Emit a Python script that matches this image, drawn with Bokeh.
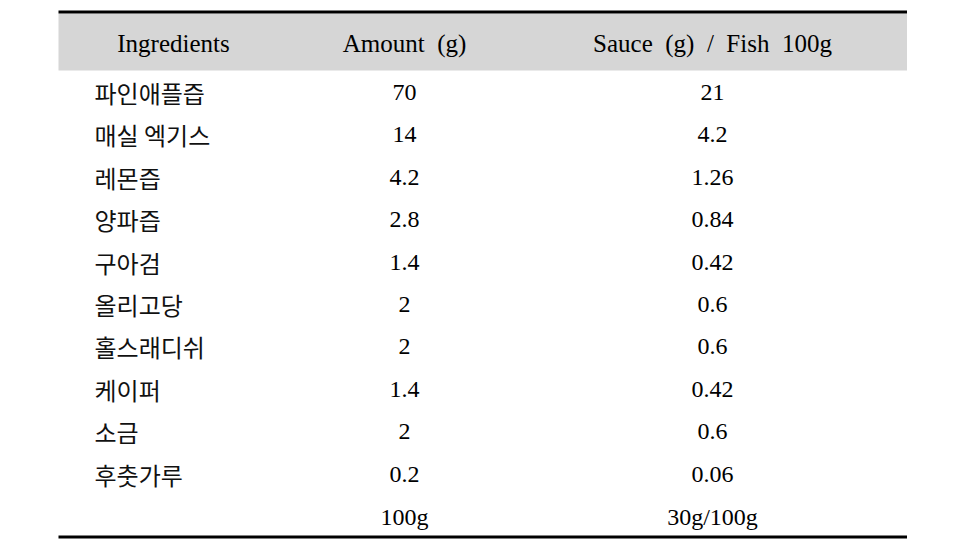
from bokeh.plotting import figure
from bokeh.models import Range1d, ColumnDataSource
from bokeh.core.properties import value
from bokeh.embed import file_html
from bokeh.resources import INLINE

headers = ["Ingredients", "Amount\u00a0 (g)", "Sauce\u00a0 (g)\u00a0 /\u00a0 Fish\u00a0 100g"]
ingredients = ["파인애플즙", "매실 엑기스", "레몬즙", "양파즙", "구아검",
               "올리고당", "홀스래디쉬", "케이퍼", "소금", "후춧가루"]
amount_g = [70, 14, 4.2, 2.8, 1.4, 2, 2, 1.4, 2, 0.2]
sauce_per_fish100g = [21, 4.2, 1.26, 0.84, 0.42, 0.6, 0.6, 0.42, 0.6, 0.06]
total_labels = ["", "100g", "30g/100g"]

W, H = 962, 543
p = figure(width=W, height=H, output_backend="svg", toolbar_location=None,
           x_range=Range1d(0, W), y_range=Range1d(H, 0),
           min_border=0, outline_line_color=None)
p.axis.visible = False
p.grid.visible = False
p.background_fill_color = "white"
p.border_fill_color = "white"

x0, x1 = 58, 906.5
col_ing_hdr, col_amt, col_sauce = 173, 404, 712
name_left = 94
row0, step = 92, 42.4

# header band
p.quad(left=[x0], right=[x1], top=[13], bottom=[70], fill_color="#d6d6d6", line_color=None)
# top & bottom rules
p.segment(x0=[x0], x1=[x1], y0=[11.5], y1=[11.5], line_color="black", line_width=3)
p.segment(x0=[x0], x1=[x1], y0=[536.5], y1=[536.5], line_color="black", line_width=3)

serif = value("Liberation Serif")
kor = value("Noto Sans CJK KR")

p.text(x=[col_ing_hdr, col_amt, col_sauce], y=[43, 43, 43], text=headers,
       text_font=serif, text_font_size="25px", text_align="center",
       text_baseline="middle", text_color="black")

n = len(ingredients)
ys = [row0 + i * step for i in range(n)]
fmt = lambda v: f"{v:g}"
src = ColumnDataSource(dict(y=ys, name=ingredients,
                            amt=[fmt(v) for v in amount_g],
                            sauce=[fmt(v) for v in sauce_per_fish100g]))
p.text(x=name_left, y="y", text="name", source=src, text_font=kor,
       text_font_size="24px", text_font_style="normal", text_align="left",
       text_baseline="middle", text_color="#111111")
p.text(x=col_amt, y="y", text="amt", source=src, text_font=serif,
       text_font_size="24px", text_align="center", text_baseline="middle",
       text_color="black")
p.text(x=col_sauce, y="y", text="sauce", source=src, text_font=serif,
       text_font_size="24px", text_align="center", text_baseline="middle",
       text_color="black")

ty = row0 + n * step
p.text(x=[col_amt, col_sauce], y=[ty, ty], text=total_labels[1:], text_font=serif,
       text_font_size="24px", text_align="center", text_baseline="middle",
       text_color="black")

open("out.html", "w").write(file_html(p, INLINE))
